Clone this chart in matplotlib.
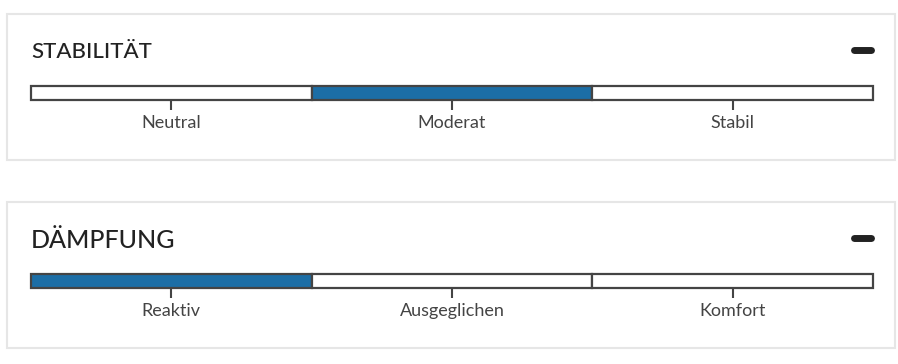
import matplotlib.pyplot as plt
from matplotlib.patches import Rectangle
from matplotlib.lines import Line2D

titles = ['STABILITÄT', 'DÄMPFUNG']
stab_levels = ['Neutral', 'Moderat', 'Stabil']
damp_levels = ['Reaktiv', 'Ausgeglichen', 'Komfort']
selected = [1, 0]

W, H = 898, 364
fig = plt.figure(figsize=(W / 100, H / 100), dpi=100)
plt.rcParams['font.family'] = ['Lato', 'DejaVu Sans']

blue = '#1c6ea6'
dark = '#444444'

# panel geometry in pixels from the top: box top, box bottom, title y, bar top
panels = [(14, 160, 52, 86), (202, 348, 240, 274)]
title_sizes = [16, 18]

for i, (levels, sel) in enumerate(zip([stab_levels, damp_levels], selected)):
    top, bot, ty, bar_top = panels[i]
    fig.add_artist(Rectangle((7 / W, 1 - bot / H), 888 / W, (bot - top) / H,
                             transform=fig.transFigure, facecolor='white',
                             edgecolor='#e6e6e6', lw=1.5, zorder=-2))
    fig.text(31 / W, 1 - ty / H, titles[i], fontsize=title_sizes[i],
             color='#222222', va='center', ha='left', fontweight=500)
    fig.add_artist(Line2D([854 / W, 871 / W], [1 - (ty - 2) / H] * 2,
                          transform=fig.transFigure, color='#222222',
                          lw=5, solid_capstyle='round'))

    ax = fig.add_axes([31 / W, 1 - (bar_top + 14) / H, 842 / W, 14 / H])
    ax.patch.set_alpha(0)
    for j in range(len(levels)):
        bars = ax.barh(0, 1, left=j, height=1,
                       color=blue if j == sel else 'white',
                       edgecolor=dark, lw=1.6)
        for b in bars:
            b.set_clip_on(False)
    ax.set_xlim(0, 3)
    ax.set_ylim(-0.5, 0.5)
    ax.set_yticks([])
    ax.set_xticks([0.5, 1.5, 2.5])
    ax.set_xticklabels(levels, fontsize=13, color=dark)
    ax.tick_params(axis='x', length=7, width=1.5, color=dark, pad=4)
    for s in ax.spines.values():
        s.set_visible(False)

fig.savefig('out.png', dpi=100, facecolor='white')
